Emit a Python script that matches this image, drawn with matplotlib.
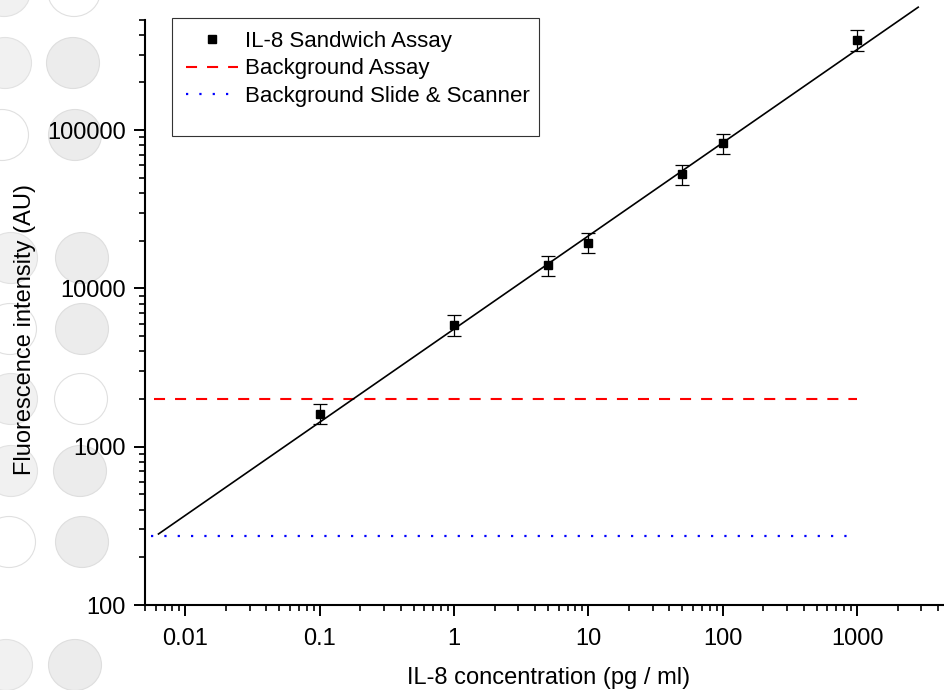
import matplotlib
matplotlib.use("Agg")
import matplotlib.pyplot as plt
from matplotlib.patches import Ellipse, Rectangle
from matplotlib.ticker import FuncFormatter, NullFormatter, LogLocator, FixedLocator

# measured IL-8 sandwich assay (pg/ml vs AU)
conc = [0.1, 1, 5, 10, 50, 100, 1000]
intensity = [1620, 5900, 14000, 19500, 52500, 82500, 372000]
intensity_err = [235, 900, 2100, 2850, 7800, 12200, 56000]

# linear fit in log-log space, end points
fit_x = [0.0063, 2850]
fit_y = [281, 598000]

# background levels
bg_assay_x = [0.0058, 1000]
bg_assay_y = [2000, 2000]
bg_slide_x = [0.0055, 1000]
bg_slide_y = [273, 273]

x_ticks = [0.01, 0.1, 1, 10, 100, 1000]
y_ticks = [100, 1000, 10000, 100000]

legend_labels = ["IL-8 Sandwich Assay", "Background Assay", "Background Slide & Scanner"]

# decorative page circles on the left: (x px, y px, fill, edge)
GREY = ("#ececec", "#dedede")
LIGHT = ("#f1f1f1", "#e2e2e2")
WHITE = ("#ffffff", "#e0e0e0")
circles = [
    (4, -9, LIGHT), (74, -9, WHITE),
    (5, 63, LIGHT), (73, 63, GREY),
    (2, 135, WHITE), (75, 135, GREY),
    (11, 258, LIGHT), (82, 258, GREY),
    (10, 329, WHITE), (82, 329, GREY),
    (11, 399, LIGHT), (81, 399, WHITE),
    (11, 471, LIGHT), (80, 471, GREY),
    (9, 542, WHITE), (82, 542, GREY),
    (6, 665, LIGHT), (75, 665, GREY),
]

plt.rcParams["font.family"] = ["Liberation Sans", "DejaVu Sans"]
plt.rcParams["font.size"] = 17

W, H = 944, 690
fig = plt.figure(figsize=(W / 100, H / 100), dpi=100)

for cx, cy, (fc, ec) in circles:
    fig.add_artist(Ellipse((cx / W, 1 - cy / H), 53 / W, 51 / H,
                           transform=fig.transFigure, facecolor=fc,
                           edgecolor=ec, lw=0.8, zorder=-1))

ax = fig.add_axes([145 / W, 85 / H, 806 / W, 585.5 / H])
ax.set_facecolor("none")

ax.errorbar(conc, intensity, yerr=intensity_err, fmt="none", ecolor="black",
            elinewidth=0.9, capsize=4.7, capthick=0.9, zorder=3)
ax.plot(conc, intensity, "s", color="black", markersize=5.8, label=legend_labels[0], zorder=4)
ax.plot(bg_assay_x, bg_assay_y, color="#ff0000", lw=1.5, dashes=(5.3, 4.8),
        label=legend_labels[1])
ax.plot(bg_slide_x, bg_slide_y, color="#0000ff", lw=1.6, dashes=(1.0, 5.0),
        label=legend_labels[2])
ax.plot(fit_x, fit_y, color="black", lw=1.2, zorder=2, clip_on=False)

ax.set_xscale("log")
ax.set_yscale("log")
ax.set_xlim(0.005, 5000)
ax.set_ylim(100, 500000)

ax.xaxis.set_major_locator(FixedLocator(x_ticks))
ax.yaxis.set_major_locator(FixedLocator(y_ticks))
ax.xaxis.set_minor_locator(LogLocator(base=10, subs=range(2, 10), numticks=20))
ax.yaxis.set_minor_locator(LogLocator(base=10, subs=range(2, 10), numticks=20))
ax.xaxis.set_major_formatter(FuncFormatter(lambda v, p: f"{v:g}"))
ax.yaxis.set_major_formatter(FuncFormatter(lambda v, p: f"{v:.0f}"))
ax.xaxis.set_minor_formatter(NullFormatter())
ax.yaxis.set_minor_formatter(NullFormatter())

for s in ["top", "right"]:
    ax.spines[s].set_visible(False)
for s in ["left", "bottom"]:
    ax.spines[s].set_linewidth(1.5)

ax.tick_params(which="major", direction="out", length=8, width=1.4, labelsize=17, pad=6)
ax.tick_params(which="minor", direction="out", length=4.3, width=1.2)
ax.tick_params(axis="x", which="major", pad=8.5)

ax.set_xlabel("IL-8 concentration (pg / ml)", fontsize=17)
ax.xaxis.set_label_coords(0.501, -0.124)
ax.xaxis.label.set_verticalalignment("center")
ax.set_ylabel("Fluorescence intensity (AU)", fontsize=17)
ax.yaxis.set_label_coords(-0.149, 0.471)
ax.yaxis.label.set_verticalalignment("center")

leg = ax.legend(loc="upper left", bbox_to_anchor=(186 / W, 1 - 31 / H),
                bbox_transform=fig.transFigure, frameon=False, fontsize=16,
                borderpad=0, borderaxespad=0, handlelength=2.34,
                handletextpad=0.32, labelspacing=0.29)
fig.add_artist(Rectangle((172 / W, 1 - 136 / H), (539 - 172) / W, (136 - 18) / H,
                         transform=fig.transFigure, fill=False,
                         edgecolor="#333333", lw=0.8, zorder=5))

fig.savefig("out.png", dpi=100)
